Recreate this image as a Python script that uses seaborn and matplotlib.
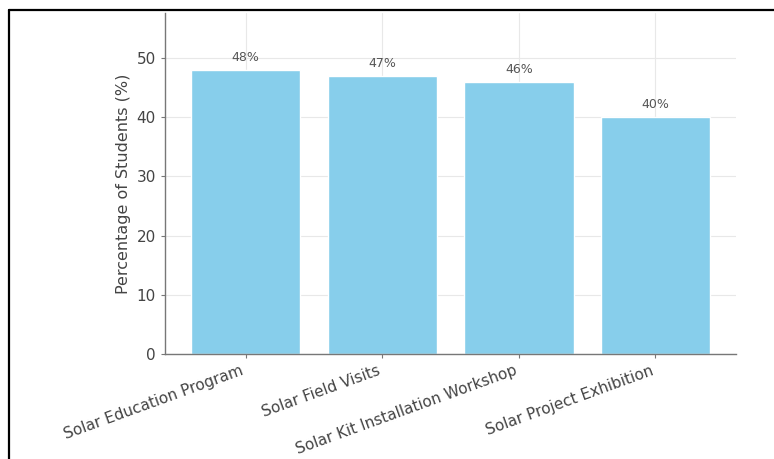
import matplotlib
matplotlib.use("Agg")
import matplotlib.pyplot as plt
import seaborn as sns
import pandas as pd
from matplotlib.lines import Line2D

categories = ["Solar Education Program", "Solar Field Visits",
              "Solar Kit Installation Workshop", "Solar Project Exhibition"]
values = [48, 47, 46, 40]
ylabel = "Percentage of Students (%)"

sns.set_style("whitegrid")
plt.rcParams['font.family'] = ['DejaVu Sans']

df = pd.DataFrame({"Program": categories, "Percentage": values})

fig = plt.figure(figsize=(7.74, 4.59), dpi=100)
ax = fig.add_axes([0.2132, 0.2288, 0.951 - 0.2132, 0.9717 - 0.2288])

sns.barplot(data=df, x="Program", y="Percentage", color="skyblue",
            saturation=1, width=0.8, ax=ax, zorder=2)

for i, v in enumerate(values):
    ax.text(i, v + 1, f"{v}%", ha="center", va="bottom", fontsize=9, color="#555555")

ax.set_xlim(-0.59, 3.59)
ax.set_ylim(0, max(values) * 1.2)
ax.set_yticks([0, 10, 20, 30, 40, 50])
ax.set_xlabel("")
ax.set_ylabel(ylabel, fontsize=11.5, color="#444444", labelpad=4)
ax.grid(True, color="#e8e8e8", linewidth=0.8, zorder=0)
ax.set_axisbelow(True)
for s in ["top", "right"]:
    ax.spines[s].set_visible(False)
for s in ["left", "bottom"]:
    ax.spines[s].set_color("#777777")
    ax.spines[s].set_linewidth(1.0)
ax.tick_params(axis="both", which="both", length=3, color="#777777",
               labelsize=11, labelcolor="#444444", bottom=True, left=True)
plt.setp(ax.get_xticklabels(), rotation=20, ha="right")

# screenshot frame lines
fig.add_artist(Line2D([9 / 774, 1.0], [1 - 10 / 459, 1 - 10 / 459],
                      transform=fig.transFigure, color="black", linewidth=1.6))
fig.add_artist(Line2D([9 / 774, 9 / 774], [0, 1 - 10 / 459],
                      transform=fig.transFigure, color="black", linewidth=1.6))

fig.savefig("out.png", dpi=100)
